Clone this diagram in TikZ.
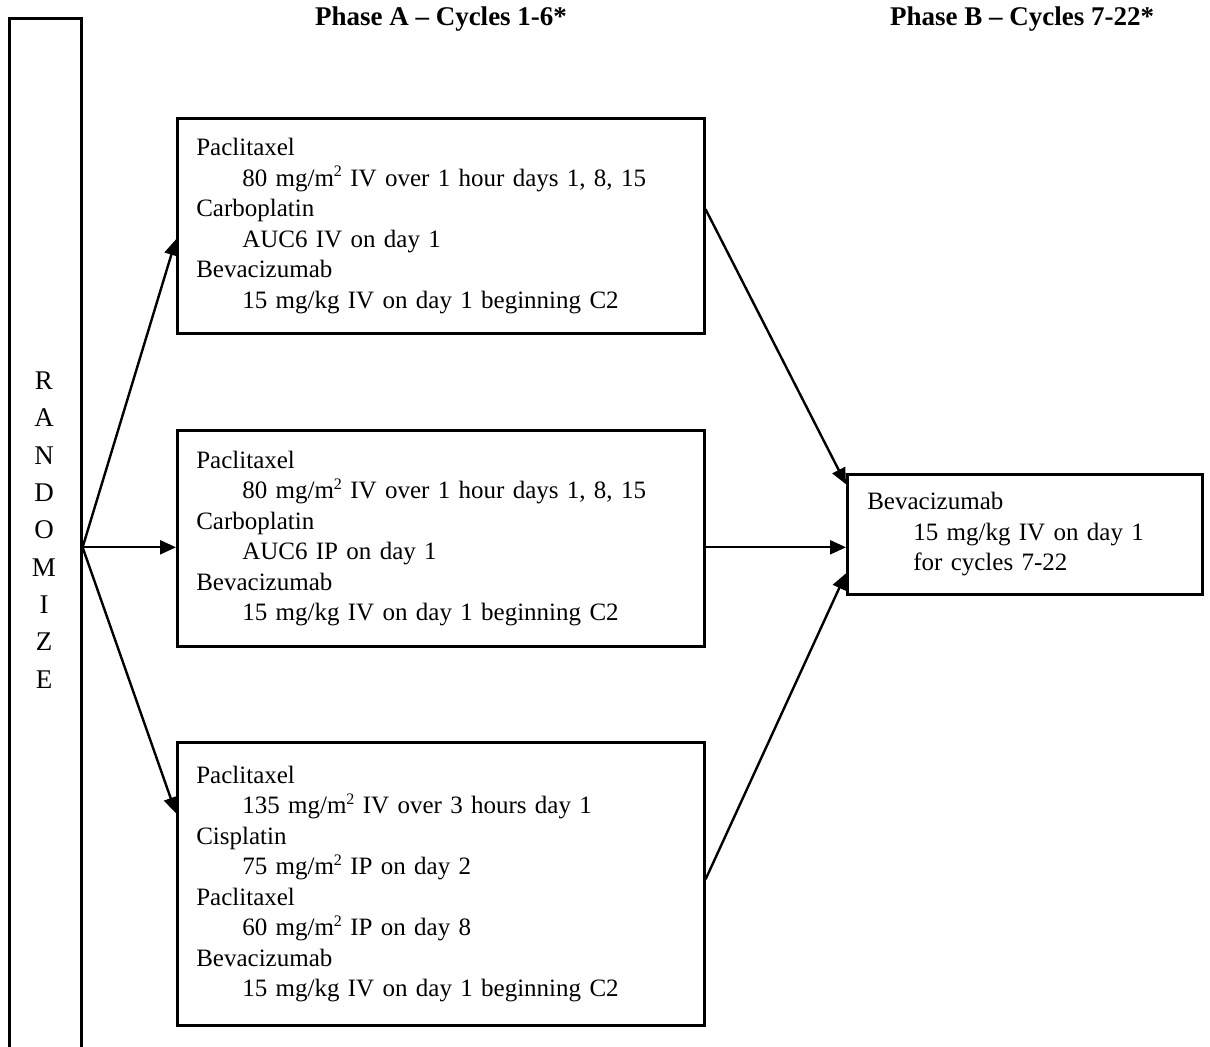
\documentclass[tikz,border=0pt]{standalone}
\usepackage{fontspec}
\setmainfont{Liberation Serif}
\usetikzlibrary{arrows.meta,positioning,calc}
\tikzset{
    block/.style={rectangle, draw, line width=1.3pt, anchor=north west, align=left, inner xsep=9.5pt, inner ysep=0pt, font=\fontsize{12.5}{15.25}\selectfont},
    line/.style={draw, line width=1.2pt, -{Triangle[length=8pt,width=7pt]}},
    phase/.style={anchor=base, font=\fontsize{13.5}{15}\selectfont\bfseries}
}
\newcommand{\ind}{\hspace*{23pt}}
\newcommand{\sq}{\raisebox{0.38em}{\fontsize{8}{8}\selectfont 2}}

\begin{document}
\begin{tikzpicture}[x=0.5pt, y=-0.5pt]
    \useasboundingbox (0,0) rectangle (1210,1047);
    \clip (0,0) rectangle (1210,1047);

    % Phase headings
    \node [phase] (phaseA) at (441,26) {Phase A -- Cycles 1-6*};
    \node [phase] (phaseB) at (1022,26) {Phase B -- Cycles 7-22*};

    % Randomize bar
    \node [draw, line width=1.3pt, anchor=north west, minimum width=36pt, minimum height=545pt, inner sep=0pt] (rbox) at (8,17) {};
    \node [align=center, font=\fontsize{13.5}{18.65}\selectfont] (rtext) at (44,530) {R\\A\\N\\D\\O\\M\\I\\Z\\E};
    \coordinate (split) at ([yshift=8pt]rbox.east);

    % Phase A arms
    \node [block, text width=244.5pt, minimum height=107.5pt] (armA) at (176,117) {Paclitaxel\\
        \ind 80 mg/m\sq{} IV over 1 hour days 1, 8, 15\\
        Carboplatin\\
        \ind AUC6 IV on day 1\\
        Bevacizumab\\
        \ind 15 mg/kg IV on day 1 beginning C2};
    \node [block, text width=244.5pt, minimum height=108pt] (armB) at (176,429) {Paclitaxel\\
        \ind 80 mg/m\sq{} IV over 1 hour days 1, 8, 15\\
        Carboplatin\\
        \ind AUC6 IP on day 1\\
        Bevacizumab\\
        \ind 15 mg/kg IV on day 1 beginning C2};
    \node [block, text width=244.5pt, minimum height=141.5pt] (armC) at (176,741) {Paclitaxel\\
        \ind 135 mg/m\sq{} IV over 3 hours day 1\\
        Cisplatin\\
        \ind 75 mg/m\sq{} IP on day 2\\
        Paclitaxel\\
        \ind 60 mg/m\sq{} IP on day 8\\
        Bevacizumab\\
        \ind 15 mg/kg IV on day 1 beginning C2};

    % Phase B
    \node [block, inner xsep=10pt, text width=157.5pt, minimum height=60pt] (maint) at (846,473) {Bevacizumab\\
        \ind 15 mg/kg IV on day 1\\
        \ind for cycles 7-22};

    % Randomization
    \path [line] (split) -- ([yshift=-6.75pt]armA.west);
    \path [line] (split) -- ([yshift=-4.5pt]armB.west);
    \path [line] (split) -- ([yshift=35.25pt]armC.west);

    % Into maintenance
    \path [line] ([yshift=8.25pt]armA.east) -- ([yshift=25pt]maint.west);
    \path [line] ([yshift=-4.5pt]armB.east) -- ([yshift=-6.5pt]maint.west);
    \path [line] ([yshift=2.25pt]armC.east) -- ([yshift=-19.5pt]maint.west);
\end{tikzpicture}
\end{document}
